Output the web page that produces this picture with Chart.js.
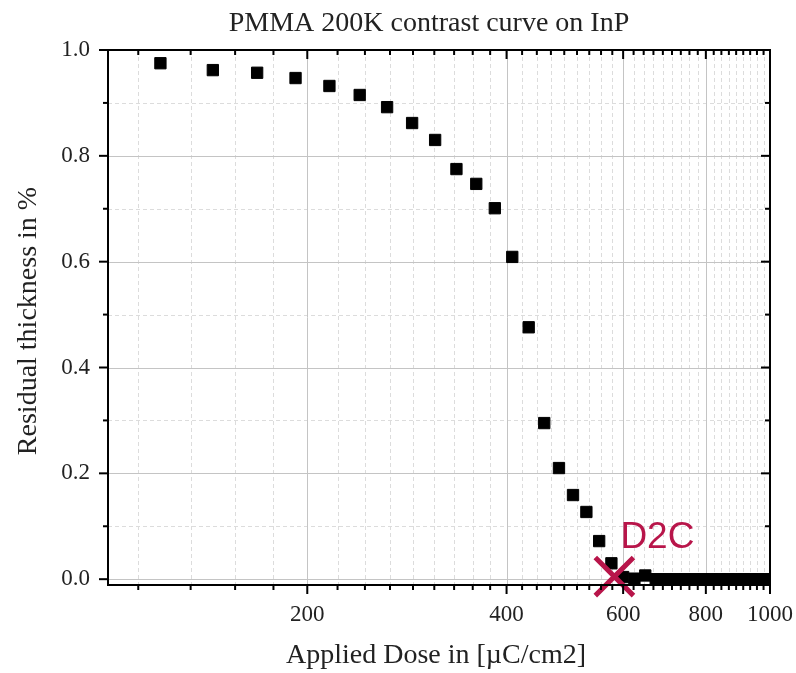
<!DOCTYPE html>
<html>
<head>
<meta charset="utf-8">
<script src="https://cdn.jsdelivr.net/npm/chart.js"></script>
<style>
  body { margin: 0; padding: 0; background: #fff; }
</style>
</head>
<body>
<canvas id="contrast" width="796" height="673"></canvas>
<script>
// measured points (dose in uC/cm2, residual thickness fraction)
const doses = [120, 144, 168, 192, 216, 240, 264, 288, 312, 336, 360, 384, 408, 432, 456, 480, 504, 528, 552, 576,
  600, 624, 648, 672, 696, 720, 744, 768, 792, 816, 840, 864, 888, 912, 936, 960, 984];
const thickness = [0.975, 0.962, 0.957, 0.947, 0.932, 0.915, 0.892, 0.862, 0.830, 0.775, 0.747, 0.701, 0.609, 0.476,
  0.295, 0.210, 0.159, 0.127, 0.072, 0.030, 0.004, 0.001, 0.007, 0, 0, 0, 0, 0, 0, 0, 0, 0, 0, 0, 0, 0, 0];

// D2C marker
const d2cDose = [582];
const d2cValue = [0.005];
const d2cLabel = 'D2C';

// axis ticks
const xMajorTicks = [200, 400, 600, 800, 1000];
const xMinorTicks = [111.1, 133.3, 155.6, 177.8, 222.2, 244.4, 266.7, 288.9, 311.1, 333.3, 355.6, 377.8,
  422.2, 444.4, 466.7, 488.9, 511.1, 533.3, 555.6, 577.8, 622.2, 644.4, 666.7, 688.9, 711.1, 733.3, 755.6, 777.8,
  822.2, 844.4, 866.7, 888.9, 911.1, 933.3, 955.6, 977.8];
const yMajorTicks = [0, 0.2, 0.4, 0.6, 0.8, 1.0];
const yMinorTicks = [0.1, 0.3, 0.5, 0.7, 0.9];

const chartTitle = 'PMMA 200K contrast curve on InP';
const xTitle = 'Applied Dose in [\u00B5C/cm2]';
const yTitle = 'Residual thickness in %';

const serif = "'Liberation Serif', 'Times New Roman', serif";
const crimson = '#b8154a';

// grid, ticks, frame and titles drawn by hand (origin-style box)
const framePlugin = {
  id: 'frame',
  beforeDatasetsDraw(chart) {
    const { ctx, chartArea: a, scales: { x, y } } = chart;
    ctx.save();
    ctx.lineWidth = 1;
    // minor grid
    ctx.strokeStyle = '#dcdcdc';
    ctx.setLineDash([4, 3]);
    xMinorTicks.forEach(v => {
      const px = Math.round(x.getPixelForValue(v)) + 0.5;
      ctx.beginPath(); ctx.moveTo(px, a.top); ctx.lineTo(px, a.bottom); ctx.stroke();
    });
    yMinorTicks.forEach(v => {
      const py = Math.round(y.getPixelForValue(v)) + 0.5;
      ctx.beginPath(); ctx.moveTo(a.left, py); ctx.lineTo(a.right, py); ctx.stroke();
    });
    // major grid
    ctx.setLineDash([]);
    ctx.strokeStyle = '#c4c4c4';
    xMajorTicks.forEach(v => {
      const px = Math.round(x.getPixelForValue(v)) + 0.5;
      ctx.beginPath(); ctx.moveTo(px, a.top); ctx.lineTo(px, a.bottom); ctx.stroke();
    });
    yMajorTicks.forEach(v => {
      const py = Math.round(y.getPixelForValue(v)) + 0.5;
      ctx.beginPath(); ctx.moveTo(a.left, py); ctx.lineTo(a.right, py); ctx.stroke();
    });
    ctx.restore();
  },
  afterDatasetsDraw(chart) {
    const { ctx, chartArea: a, scales: { x, y } } = chart;
    ctx.save();
    ctx.strokeStyle = '#000';
    ctx.lineWidth = 2;
    ctx.strokeRect(a.left, a.top, a.right - a.left, a.bottom - a.top);

    const tickX = (v, len) => {
      const px = x.getPixelForValue(v);
      ctx.beginPath(); ctx.moveTo(px, a.bottom); ctx.lineTo(px, a.bottom + len); ctx.stroke();
      ctx.beginPath(); ctx.moveTo(px, a.top); ctx.lineTo(px, a.top + len); ctx.stroke();
    };
    const tickY = (v, len) => {
      const py = y.getPixelForValue(v);
      ctx.beginPath(); ctx.moveTo(a.left, py); ctx.lineTo(a.left - len, py); ctx.stroke();
      ctx.beginPath(); ctx.moveTo(a.right, py); ctx.lineTo(a.right - len, py); ctx.stroke();
    };
    xMajorTicks.forEach(v => tickX(v, 9));
    xMinorTicks.forEach(v => tickX(v, 5));
    yMajorTicks.forEach(v => tickY(v, 9));
    yMinorTicks.forEach(v => tickY(v, 5));

    // D2C label next to the cross
    const cx = x.getPixelForValue(d2cDose[0]);
    const cy = y.getPixelForValue(d2cValue[0]);
    ctx.fillStyle = crimson;
    ctx.font = "37px 'Liberation Sans', Arial, sans-serif";
    ctx.textAlign = 'left';
    ctx.textBaseline = 'alphabetic';
    ctx.fillText(d2cLabel, cx + 6, cy - 29);

    // titles
    const mid = (a.left + a.right) / 2;
    ctx.fillStyle = '#222';
    ctx.font = '28px ' + serif;
    ctx.textAlign = 'center';
    ctx.fillText(chartTitle, mid - 10, 31);
    ctx.fillText(xTitle, mid - 3, 663);
    ctx.translate(36, 321);
    ctx.rotate(-Math.PI / 2);
    ctx.fillText(yTitle, 0, 0);
    ctx.restore();
  }
};

const ctx = document.getElementById('contrast').getContext('2d');

new Chart(ctx, {
  type: 'scatter',
  data: {
    datasets: [
      {
        label: 'D2C',
        data: d2cDose.map((d, i) => ({ x: d, y: d2cValue[i] })),
        pointStyle: 'crossRot',
        pointRadius: 27,
        pointBorderWidth: 5,
        pointBorderColor: crimson,
        borderColor: crimson,
        order: 0,
        clip: false
      },
      {
        label: 'PMMA 200K',
        data: doses.map((d, i) => ({ x: d, y: thickness[i] })),
        pointStyle: 'rect',
        pointRadius: 8,
        pointBackgroundColor: '#000',
        pointBorderColor: '#000',
        pointBorderWidth: 1,
        order: 1
      }
    ]
  },
  options: {
    responsive: false,
    animation: false,
    events: [],
    layout: { autoPadding: false, padding: { top: 50, right: 26, left: 0, bottom: 0 } },
    plugins: {
      legend: { display: false },
      tooltip: { enabled: false },
      title: { display: false }
    },
    scales: {
      x: {
        type: 'logarithmic',
        min: 100,
        max: 1000,
        afterBuildTicks: s => {
          s.ticks = xMajorTicks.concat(xMinorTicks).sort((p, q) => p - q).map(v => ({ value: v }));
        },
        afterFit: s => { s.height = 88; s.paddingLeft = 0; s.paddingRight = 0; },
        grid: { display: false, drawTicks: false },
        border: { display: false },
        ticks: {
          autoSkip: false,
          maxRotation: 0,
          padding: 16,
          color: '#222',
          font: { family: serif, size: 23 },
          callback: v => xMajorTicks.includes(v) ? String(v) : ''
        }
      },
      y: {
        min: -0.011,
        max: 1.0,
        afterBuildTicks: s => {
          s.ticks = yMajorTicks.map(v => ({ value: v }));
        },
        afterFit: s => { s.width = 108; s.paddingTop = 0; s.paddingBottom = 0; },
        grid: { display: false, drawTicks: false },
        border: { display: false },
        ticks: {
          padding: 18,
          color: '#222',
          font: { family: serif, size: 23 },
          callback: v => Number(v).toFixed(1)
        }
      }
    }
  },
  plugins: [framePlugin]
});
</script>
</body>
</html>
